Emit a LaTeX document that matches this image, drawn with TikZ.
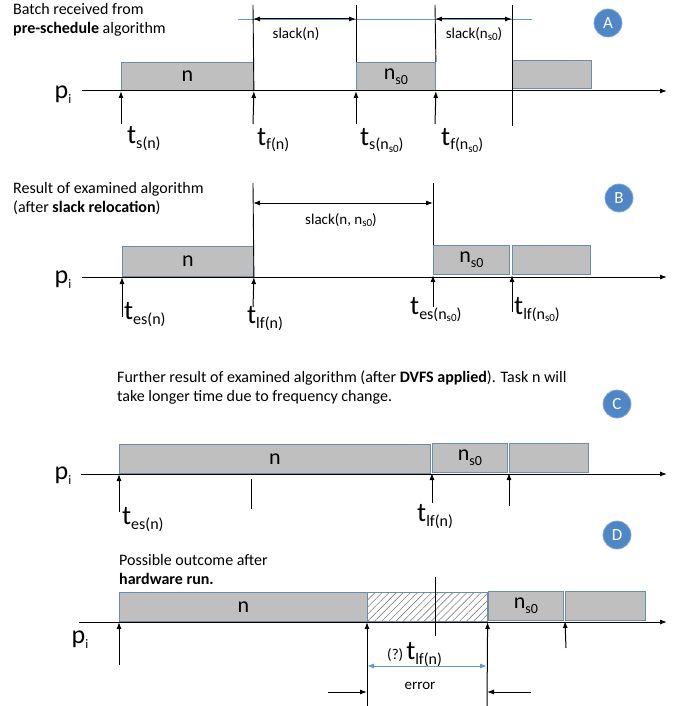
\documentclass[tikz,border=0pt]{standalone}
\usepackage{fontspec}
\setmainfont{Carlito}
\usetikzlibrary{arrows.meta}
\usetikzlibrary{patterns.meta}
\tikzset{>={Latex[length=7pt,width=5pt]}}
\definecolor{taskfill}{RGB}{191,191,191}
\definecolor{taskline}{RGB}{110,140,170}
\definecolor{slackblue}{RGB}{91,155,213}
\definecolor{badgeblue}{RGB}{79,134,198}
\tikzset{
  task/.style={fill=taskfill,draw=taskline,line width=0.9pt,anchor=south west,inner sep=0pt,font=\fontsize{22}{22}\selectfont},
  hatched/.style={task,fill=none,pattern={Lines[angle=45,distance=5pt,line width=0.6pt]},pattern color=gray},
  badge/.style={circle,fill=badgeblue,draw=badgeblue!70!white,line width=0.8pt,minimum size=28pt,inner sep=0pt,text=white,font=\fontsize{17}{17}\selectfont},
  caption/.style={anchor=west,align=left,inner sep=0pt,font=\fontsize{16}{19}\selectfont},
  slacklabel/.style={inner sep=0pt,font=\fontsize{15}{15}\selectfont},
  tlabel/.style={anchor=base west,inner sep=0pt},
  timeaxis/.style={line width=1pt,->},
  startarrow/.style={line width=1pt,->},
  guide/.style={line width=0.9pt},
}
\newcommand{\tlab}[1]{{\fontsize{27}{27}\selectfont t}\raisebox{-5pt}{\fontsize{16}{16}\selectfont #1}}
\newcommand{\plab}{{\fontsize{26}{26}\selectfont p}\raisebox{-5pt}{\fontsize{13}{13}\selectfont i}}
\newcommand{\nsub}{\raisebox{-5pt}{\fontsize{14}{14}\selectfont s0}}
\newcommand{\nnsub}{\raisebox{-2pt}{\fontsize{11}{11}\selectfont s0}}

\begin{document}
\begin{tikzpicture}[x=1pt,y=-1pt]
	\useasboundingbox (0,0) rectangle (689,706);
	% A
	\node[caption] (capA) at (13,20) {Batch received from\\\textbf{pre-schedule} algorithm};
	\node[badge] (A) at (608,23) {A};
	\coordinate (bA0) at (238,19);
	\coordinate (bA1) at (532,19);
	\draw[slackblue,line width=0.8pt] (bA0)--(bA1);
	\node[task,minimum width=132pt,minimum height=28pt] (nA) at (121,91) {n};
	\node[task,minimum width=79pt,minimum height=28pt] (nsA) at (356,91) {n\nsub};
	\node[task,minimum width=79pt,minimum height=28pt] (xA) at (512,89) {};
	\coordinate (A0) at (82,91);
	\coordinate (A1) at (667,91);
	\draw[timeaxis] (A0)--(A1);
	\node (pA) at (63,95) {\plab};
	\coordinate (gA1) at (253,5);
	\coordinate (gA2) at (356,5);
	\coordinate (gA3) at (435,5);
	\coordinate (gA4) at (512,5);
	\coordinate (hA4) at (512,126);
	\draw[guide] (gA1)--(nA.south east);
	\draw[guide] (gA2)--(nsA.north west);
	\draw[guide] (gA3)--(nsA.north east);
	\draw[guide] (gA4)--(hA4);
	\coordinate (kA1) at (253,19);
	\coordinate (kA2) at (356,19);
	\coordinate (kA3) at (435,19);
	\coordinate (kA4) at (512,19);
	\draw[<->,line width=1pt] (kA1)--(kA2);
	\draw[<->,line width=1pt] (kA3)--(kA4);
	\node[slacklabel] (slA1) at (296,34) {slack(n)};
	\node[slacklabel] (slA2) at (474,34) {slack(n\nnsub)};
	\coordinate (uA1) at (121,124);
	\coordinate (uA2) at (253,124);
	\coordinate (uA3) at (356,124);
	\coordinate (uA4) at (435,124);
	\draw[startarrow] (uA1)--(nA.south west);
	\draw[startarrow] (uA2)--(nA.south east);
	\draw[startarrow] (uA3)--(nsA.south west);
	\draw[startarrow] (uA4)--(nsA.south east);
	\node[tlabel] (tsA) at (127,143) {\tlab{s(n)}};
	\node[tlabel] (tfA) at (257,145) {\tlab{f(n)}};
	\node[tlabel] (tsnA) at (360,145) {\tlab{s(n\nnsub)}};
	\node[tlabel] (tfnA) at (441,145) {\tlab{f(n\nnsub)}};
	% B
	\node[caption] (capB) at (13,199) {Result of examined algorithm\\(after \textbf{slack relocation})};
	\node[badge] (B) at (619,198) {B};
	\node[task,minimum width=131pt,minimum height=30pt] (nB) at (122,277) {n};
	\node[task,minimum width=76pt,minimum height=29pt] (nsB) at (433,275) {n\nsub};
	\node[task,minimum width=78pt,minimum height=29pt] (xB) at (512,275) {};
	\coordinate (B0) at (82,277);
	\coordinate (B1) at (667,277);
	\draw[timeaxis] (B0)--(B1);
	\node (pB) at (63,280) {\plab};
	\coordinate (gB1) at (253,183);
	\coordinate (gB2) at (433,183);
	\draw[guide] (gB1)--(nB.south east);
	\draw[guide] (gB2)--(nsB.north west);
	\coordinate (kB1) at (253,203);
	\coordinate (kB2) at (433,203);
	\draw[<->,line width=1pt] (kB1)--(kB2);
	\node[slacklabel] (slB) at (341,220) {slack(n, n\nnsub)};
	\coordinate (uB1) at (122,317);
	\coordinate (uB2) at (253,307);
	\coordinate (uB3) at (433,307);
	\coordinate (uB4) at (512,312);
	\draw[startarrow] (uB1)--(nB.south west);
	\draw[startarrow] (uB2)--(nB.south east);
	\draw[startarrow] (uB3)--(nsB.south west);
	\draw[startarrow] (uB4)--(xB.south west);
	\node[tlabel] (tesB) at (124,319) {\tlab{es(n)}};
	\node[tlabel] (tlfB) at (247,323) {\tlab{lf(n)}};
	\node[tlabel] (tesnB) at (410,314) {\tlab{es(n\nnsub)}};
	\node[tlabel] (tlfnB) at (514,314) {\tlab{lf(n\nnsub)}};
	% C
	\node[caption] (capC) at (117,388) {Further result of examined algorithm (after \textbf{DVFS applied}). Task n will\\take longer time due to frequency change.};
	\node[badge] (C) at (617,404) {C};
	\node[task,minimum width=311pt,minimum height=29pt] (nC) at (119,474) {n};
	\node[task,minimum width=75pt,minimum height=29pt] (nsC) at (432,473) {n\nsub};
	\node[task,minimum width=79pt,minimum height=29pt] (xC) at (509,473) {};
	\coordinate (C0) at (81,474);
	\coordinate (C1) at (667,474);
	\draw[timeaxis] (C0)--(C1);
	\node (pC) at (63,476) {\plab};
	\coordinate (gC1) at (251,479);
	\coordinate (gC2) at (251,509);
	\draw[guide] (gC1)--(gC2);
	\coordinate (uC1) at (119,512);
	\coordinate (uC2) at (432,503);
	\coordinate (uC3) at (509,506);
	\draw[startarrow] (uC1)--(nC.south west);
	\draw[startarrow] (uC2)--(nsC.south west);
	\draw[startarrow] (uC3)--(xC.south west);
	\node[tlabel] (tesC) at (122,524) {\tlab{es(n)}};
	\node[tlabel] (tlfC) at (417,521) {\tlab{lf(n)}};
	% D
	\node[caption] (capD) at (119,569) {Possible outcome after\\\textbf{hardware run.}};
	\node[badge] (D) at (617,535) {D};
	\node[task,minimum width=248pt,minimum height=29pt] (nD) at (119,622) {n};
	\node[hatched,minimum width=120pt,minimum height=29pt] (eD) at (367,622) {};
	\node[task,minimum width=75pt,minimum height=29pt] (nsD) at (488,621) {n\nsub};
	\node[task,minimum width=80pt,minimum height=29pt] (xD) at (565,621) {};
	\coordinate (D0) at (79,622);
	\coordinate (D1) at (667,622);
	\draw[timeaxis] (D0)--(D1);
	\node (pD) at (80,640) {\plab};
	\coordinate (gD1) at (435,577);
	\coordinate (gD2) at (435,636);
	\draw[guide] (gD1)--(gD2);
	\coordinate (uD1) at (119,665);
	\coordinate (uD2) at (367,706);
	\coordinate (uD3) at (487,706);
	\coordinate (uD4) at (566,648);
	\draw[startarrow] (uD1)--(nD.south west);
	\draw[startarrow] (uD2)--(eD.south west);
	\draw[startarrow] (uD3)--(eD.south east);
	\draw[startarrow] (uD4)--(xD.south west);
	\node[tlabel] (tlfD) at (387,659) {{\fontsize{15}{15}\selectfont(?)} \tlab{lf(n)}};
	\coordinate (kD1) at (367,666);
	\coordinate (kD2) at (487,666);
	\draw[<->,slackblue,line width=1pt] (kD1)--(kD2);
	\node[slacklabel] (errD) at (420,686) {error};
	\coordinate (aD1) at (328,692);
	\coordinate (aD2) at (531,692);
	\draw[->,line width=1pt] (aD1)--(uD2|-aD1);
	\draw[->,line width=1pt] (aD2)--(uD3|-aD2);
\end{tikzpicture}
\end{document}
